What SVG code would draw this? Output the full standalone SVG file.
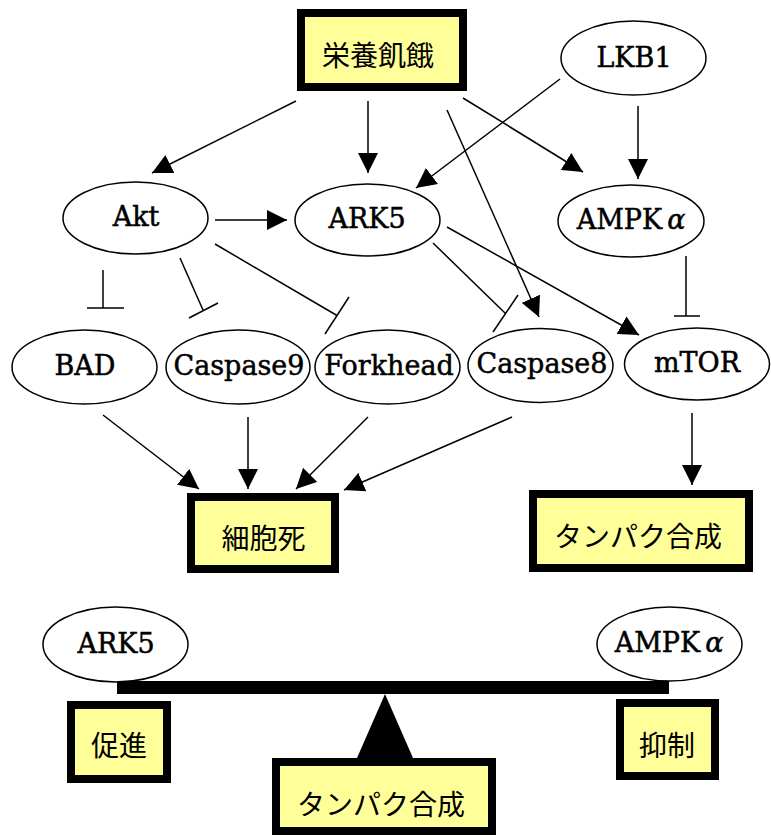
<svg xmlns="http://www.w3.org/2000/svg" width="771" height="836" viewBox="0 0 771 836">
<style>
.bg{fill:#ffffff}
.ell{fill:#ffffff;stroke:#000;stroke-width:1.5}
.box{fill:#ffff99;stroke:#000;stroke-width:8}
.lbl{font-family:"DejaVu Serif","Liberation Serif",serif;font-size:27px;fill:#000;stroke:#000;stroke-width:0.5;text-anchor:middle}
.jp{font-family:"Noto Sans CJK JP","Noto Sans",sans-serif;font-size:28px;fill:#000;text-anchor:middle}
.ln{stroke:#000;stroke-width:1.5;fill:none}
.arr{stroke:#000;stroke-width:1.5;fill:none;marker-end:url(#ah)}
</style>
<defs>
<marker id="ah" markerUnits="userSpaceOnUse" markerWidth="20" markerHeight="20" refX="20" refY="10" orient="auto" viewBox="0 0 20 20">
<path d="M0,0 L20,10 L0,20 z" fill="#000"/>
</marker>
</defs>
<rect class="bg" x="0" y="0" width="771" height="836"/>

<g id="connectors">
<line class="arr" x1="296" y1="101" x2="152" y2="173"/>
<line class="arr" x1="368" y1="101" x2="368" y2="173"/>
<line class="arr" x1="447" y1="110" x2="539" y2="317"/>
<line class="arr" x1="463" y1="98" x2="583" y2="172"/>
<line class="arr" x1="560" y1="79" x2="416" y2="188"/>
<line class="arr" x1="638" y1="106" x2="638" y2="179"/>
<line class="arr" x1="215" y1="220" x2="287" y2="220"/>
<line class="ln" x1="103" y1="270" x2="103" y2="308"/>
<line class="ln" x1="87" y1="308" x2="124" y2="308"/>
<line class="ln" x1="180" y1="258" x2="203" y2="310"/>
<line class="ln" x1="189" y1="318" x2="218" y2="303"/>
<line class="ln" x1="215" y1="244" x2="337" y2="315.5"/>
<line class="ln" x1="325" y1="334" x2="349" y2="297"/>
<line class="ln" x1="433" y1="243" x2="505.5" y2="313.5"/>
<line class="ln" x1="493" y1="332" x2="518" y2="295"/>
<line class="arr" x1="447" y1="227" x2="639" y2="335"/>
<line class="ln" x1="686" y1="256" x2="686" y2="316"/>
<line class="ln" x1="674" y1="316" x2="700" y2="316"/>
<line class="arr" x1="103" y1="415" x2="199" y2="489"/>
<line class="arr" x1="248" y1="417" x2="248" y2="489"/>
<line class="arr" x1="368" y1="417" x2="296" y2="489"/>
<line class="arr" x1="512" y1="417" x2="344" y2="490"/>
<line class="arr" x1="692" y1="413" x2="692" y2="485"/>
</g>

<g id="starvation">
<rect class="box" x="301" y="13" width="162" height="74"/>
<text class="jp" x="378" y="66">栄養飢餓</text>
</g>
<g id="lkb1">
<ellipse class="ell" cx="633.5" cy="58" rx="72.5" ry="37"/>
<text class="lbl" x="634" y="67">LKB1</text>
</g>
<g id="akt">
<ellipse class="ell" cx="135.5" cy="218" rx="72.5" ry="36"/>
<text class="lbl" x="136" y="226">Akt</text>
</g>
<g id="ark5">
<ellipse class="ell" cx="367.5" cy="220" rx="72.5" ry="36"/>
<text class="lbl" x="367" y="228">ARK5</text>
</g>
<g id="ampk">
<ellipse class="ell" cx="631" cy="221" rx="73" ry="36"/>
<text class="lbl" x="631" y="229">AMPK<tspan dx="5" font-style="italic">α</tspan></text>
</g>
<g id="bad">
<ellipse class="ell" cx="84.5" cy="367" rx="72.5" ry="37"/>
<text class="lbl" x="85" y="375">BAD</text>
</g>
<g id="caspase9">
<ellipse class="ell" cx="238" cy="367" rx="72" ry="37"/>
<text class="lbl" x="239" y="375">Caspase9</text>
</g>
<g id="forkhead">
<ellipse class="ell" cx="387.5" cy="367" rx="72.5" ry="37"/>
<text class="lbl" x="389" y="375">Forkhead</text>
</g>
<g id="caspase8">
<ellipse class="ell" cx="540.5" cy="365.5" rx="72.5" ry="37"/>
<text class="lbl" x="542" y="373">Caspase8</text>
</g>
<g id="mtor">
<ellipse class="ell" cx="697" cy="364" rx="72.5" ry="36"/>
<text class="lbl" x="697" y="372">mTOR</text>
</g>
<g id="celldeath">
<rect class="box" x="191" y="497" width="144" height="72"/>
<text class="jp" x="263.5" y="549">細胞死</text>
</g>
<g id="protein1">
<rect class="box" x="533" y="494" width="216" height="74"/>
<text class="jp" x="638" y="547">タンパク合成</text>
</g>

<g id="balance">
<rect x="117" y="681" width="552" height="13" fill="#000"/>
<polygon points="385,694 357,758 413,758" fill="#000"/>
</g>
<g id="ark5b">
<ellipse class="ell" cx="115.5" cy="644.5" rx="72.5" ry="37.5"/>
<text class="lbl" x="116" y="653">ARK5</text>
</g>
<g id="ampkb">
<ellipse class="ell" cx="669.5" cy="644" rx="72.5" ry="37"/>
<text class="lbl" x="669" y="652">AMPK<tspan dx="5" font-style="italic">α</tspan></text>
</g>
<g id="promote">
<rect class="box" x="71" y="705" width="96" height="74"/>
<text class="jp" x="119" y="756">促進</text>
</g>
<g id="inhibit">
<rect class="box" x="620" y="703" width="95" height="73"/>
<text class="jp" x="667" y="756">抑制</text>
</g>
<g id="protein2">
<rect class="box" x="276" y="762" width="216" height="69"/>
<text class="jp" x="381" y="815">タンパク合成</text>
</g>
</svg>
